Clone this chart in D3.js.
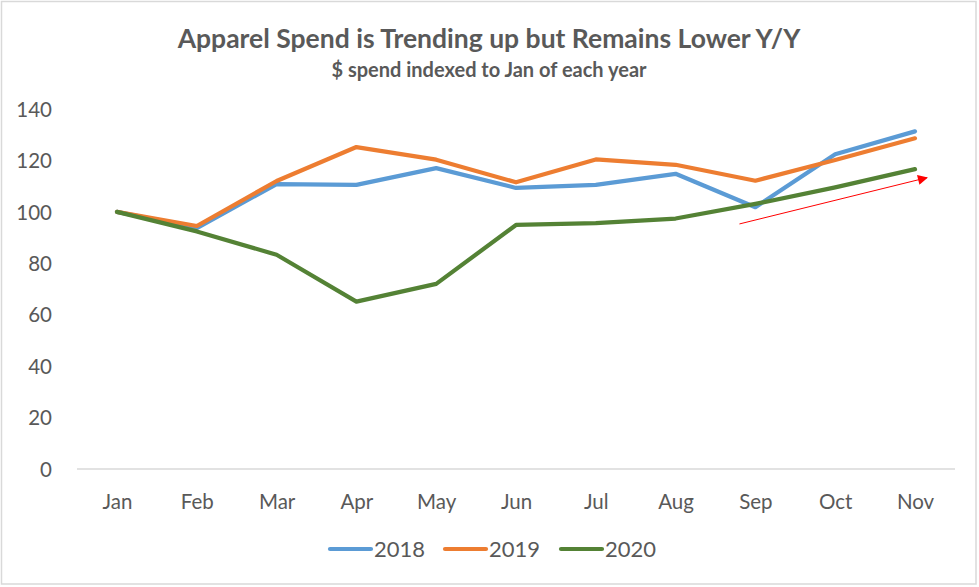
<!DOCTYPE html>
<html><head><meta charset="utf-8">
<script src="https://cdn.jsdelivr.net/npm/d3@7"></script>
<style>html,body{margin:0;padding:0;background:#fff;}svg{display:block;}</style>
</head><body>
<script>
const months = ["Jan","Feb","Mar","Apr","May","Jun","Jul","Aug","Sep","Oct","Nov"];
const s2018 = [100, 93.7, 110.8, 110.5, 117, 109.3, 110.5, 114.8, 101.8, 122.4, 131.3];
const s2019 = [100, 94.5, 112, 125.2, 120.3, 111.5, 120.4, 118.3, 112.1, 120.2, 128.6];
const s2020 = [100, 92.4, 83.3, 65.1, 72, 94.9, 95.6, 97.4, 103.1, 109.5, 116.6];
const seriesNames = ["2018","2019","2020"];
const yTicks = [0,20,40,60,80,100,120,140];
const arrowFrom = {m: 7.8, v: 95.3};
const arrowTo = {m: 10.15, v: 113.3};

const W = 979, H = 587;
const colors = {"2018":"#5B9BD5","2019":"#ED7D31","2020":"#548235"};
const series = [
  {name:"2018", values:s2018},
  {name:"2019", values:s2019},
  {name:"2020", values:s2020}
];
const font = "Lato, 'Open Sans', sans-serif";
const txt = "#595959";

const svg = d3.select("body").append("svg").attr("width", W).attr("height", H);
svg.append("rect").attr("x",1.5).attr("y",1.5).attr("width",W-4.5).attr("height",H-4.5)
  .attr("fill","#fff").attr("stroke","#d9d9d9").attr("stroke-width",1.5);

const x = d3.scalePoint().domain(months).range([117, 915]);
const y = d3.scaleLinear().domain([0,140]).range([469, 109]);
const xi = d3.scaleLinear().domain([0, months.length-1]).range([117, 915]);

// title
svg.append("text").attr("x", 489).attr("y", 48).attr("text-anchor","middle")
  .attr("font-family", font).attr("font-weight","bold").attr("font-size", 26.5).attr("fill", txt)
  .text("Apparel Spend is Trending up but Remains Lower Y/Y");
svg.append("text").attr("x", 489).attr("y", 77).attr("text-anchor","middle")
  .attr("font-family", font).attr("font-weight","bold").attr("font-size", 20).attr("fill", txt)
  .text("$ spend indexed to Jan of each year");

// y axis labels
const yAxis = d3.axisLeft(y).tickValues(yTicks).tickSize(0).tickPadding(0);
const gy = svg.append("g").attr("transform","translate(52,0)").call(yAxis);
gy.select(".domain").remove();
gy.selectAll("text").attr("font-family", font).attr("font-size", 20.5).attr("fill", txt).attr("dy","0.35em");

// x axis
const xAxis = d3.axisBottom(x).tickSize(0).tickPadding(0);
const gx = svg.append("g").attr("transform","translate(0,469)").call(xAxis);
gx.select(".domain").attr("d", "M77,0H955").attr("stroke","#d9d9d9").attr("stroke-width",1.5);
gx.selectAll("text").attr("font-family", font).attr("font-size", 20.5).attr("fill", txt).attr("dy","0").attr("y", 40);

// lines
const line = d3.line().x((d,i)=>x(months[i])).y(d=>y(d));
svg.append("g").selectAll("path").data(series).join("path")
  .attr("d", d=>line(d.values)).attr("fill","none")
  .attr("stroke", d=>colors[d.name]).attr("stroke-width", 4.2)
  .attr("stroke-linejoin","round").attr("stroke-linecap","round");

// arrow annotation
const defs = svg.append("defs");
defs.append("marker").attr("id","ah").attr("viewBox","0 0 10 10").attr("refX",9).attr("refY",5)
  .attr("markerWidth",11).attr("markerHeight",10).attr("markerUnits","userSpaceOnUse").attr("orient","auto")
  .append("path").attr("d","M0,0L10,5L0,10Z").attr("fill","#FF0000");
svg.append("line")
  .attr("x1", xi(arrowFrom.m)).attr("y1", y(arrowFrom.v))
  .attr("x2", xi(arrowTo.m)).attr("y2", y(arrowTo.v))
  .attr("stroke","#FF0000").attr("stroke-width",1).attr("marker-end","url(#ah)");

// legend
const legX = [329, 444, 560];
const lg = svg.append("g").selectAll("g").data(series).join("g")
  .attr("transform",(d,i)=>`translate(${legX[i]},549)`);
lg.append("line").attr("x1",1).attr("x2",42).attr("y1",0).attr("y2",0)
  .attr("stroke",d=>colors[d.name]).attr("stroke-width",4.2).attr("stroke-linecap","round");
lg.append("text").attr("x",45).attr("y",0).attr("dy","0.35em")
  .attr("font-family", font).attr("font-size", 22).attr("fill", txt).text(d=>d.name);
</script>
</body></html>
